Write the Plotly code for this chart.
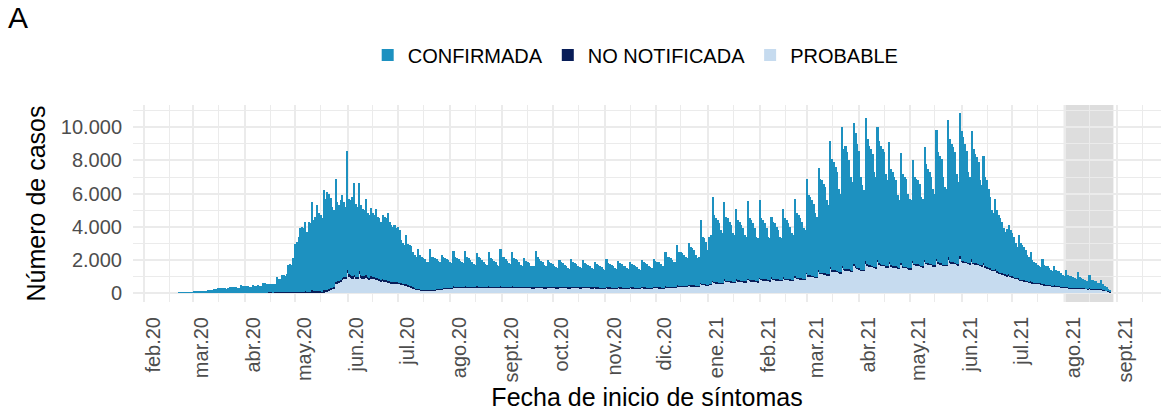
import plotly.graph_objects as go
import pandas as pd

# ---------------- data (daily, starting 2020-02-22) ----------------
start_date = "2020-02-22"

confirmada = [
    20, 30,
    50, 40, 45, 40, 55, 30, 35,
    70, 60, 75, 80, 90, 60, 70,
    140, 150, 160, 170, 190, 230, 260,
    300, 280, 290, 300, 310, 260, 280,
    390, 360, 370, 350, 380, 320, 330,
    460, 430, 410, 420, 400, 360, 350,
    480, 450, 430, 470, 420, 430, 600,
    580, 540, 520, 540, 510, 500, 530,
    930, 830, 810, 1020, 1010, 1010, 1100,
    1640, 1660, 1620, 2040, 2870, 2990, 3330,
    3870, 3920, 3880, 4210, 3620, 4230, 4120,
    5350, 4300, 4510, 5200, 4700, 4610, 4420,
    6060, 5550, 5900, 5730, 5420, 4870, 4620,
    6180, 4800, 4550, 4800, 4990, 4560, 4210,
    7220, 4580, 4540, 4790, 5570, 4450, 4250,
    5350, 4240, 4100, 4000, 4630, 3860, 3810,
    4150, 3850, 3750, 4200, 3710, 3660, 3520,
    3850, 3810, 3710, 4060, 3570, 3420, 3290,
    3420, 3290, 3350, 3180, 2600, 2440, 2360,
    2940, 2470, 2460, 2450, 2150, 1990, 1930,
    2390, 2070, 1990, 1900, 1850, 1710, 1660,
    2440, 2000, 1940, 1890, 1830, 1730, 1670,
    2040, 1870, 1800, 1740, 1680, 1530, 1470,
    2140, 1770, 1720, 1680, 1580, 1490, 1440,
    2140, 1820, 1720, 1630, 1530, 1390, 1340,
    2020, 1770, 1720, 1630, 1530, 1390, 1340,
    2080, 1720, 1670, 1580, 1480, 1340, 1290,
    2240, 1820, 1770, 1680, 1580, 1440, 1390,
    2080, 1720, 1670, 1630, 1480, 1340, 1290,
    1760, 1590, 1540, 1450, 1300, 1260, 1310,
    2160, 1790, 1690, 1600, 1500, 1360, 1310,
    1600, 1490, 1440, 1400, 1300, 1210, 1160,
    1620, 1490, 1440, 1350, 1300, 1160, 1110,
    1700, 1540, 1440, 1400, 1300, 1210, 1160,
    1600, 1440, 1390, 1350, 1250, 1160, 1110,
    1540, 1410, 1360, 1320, 1220, 1130, 1080,
    1670, 1460, 1410, 1370, 1270, 1180, 1130,
    1570, 1460, 1410, 1320, 1270, 1180, 1130,
    1510, 1410, 1360, 1320, 1220, 1130, 1080,
    1650, 1510, 1460, 1420, 1320, 1230, 1180,
    1710, 1600, 1550, 1510, 1410, 1320, 1270,
    2080, 1820, 1770, 1730, 1630, 1540, 1490,
    2410, 2060, 2010, 1970, 1870, 1730, 1680,
    2550, 2330, 2230, 2140, 1870, 1680, 1750,
    3770, 2850, 2750, 2570, 2120, 2850, 2930,
    5050, 4020, 3840, 3740, 3570, 3190, 3000,
    4670, 3850, 3760, 3570, 3390, 2920, 2830,
    4260, 3630, 3540, 3350, 3160, 2790, 2700,
    4700, 3710, 3620, 3430, 3140, 2670, 2580,
    4710, 3650, 3560, 3370, 3080, 2610, 2520,
    3650, 3440, 3350, 3160, 2970, 2600, 2510,
    4140, 3630, 3540, 3350, 3160, 2790, 2700,
    4690, 3880, 3790, 3600, 3410, 3040, 2950,
    5690, 4820, 4740, 4550, 4360, 3810, 3620,
    6140, 5680, 5590, 5400, 5210, 4470, 4180,
    7630, 6710, 6530, 6240, 5950, 5020, 4740,
    8380, 7230, 7450, 7060, 6570, 5640, 5360,
    8480, 8030, 7480, 7090, 5590, 5090, 4810,
    8620, 7560, 7230, 7040, 6750, 5730, 5440,
    8050, 7420, 7180, 6990, 6800, 5580, 5200,
    7240, 5830, 5670, 5380, 5190, 4360, 4080,
    6660, 5570, 5410, 5320, 4490, 4200, 4110,
    6060, 5230, 5170, 5080, 4890, 4170, 4080,
    6810, 5980, 5720, 5530, 5240, 4620, 4340,
    7750, 6640, 6490, 6300, 5290, 4700, 4610,
    8290, 7390, 7140, 6950, 6660, 5440, 4960,
    8630, 7840, 7490, 7100, 6710, 5490, 5210,
    7750, 6860, 6610, 6420, 6130, 5110, 4830,
    6440, 5380, 5240, 4780, 4320, 3590, 3420,
    4230, 3690, 3440, 3270, 3110, 2750, 2570,
    2830, 2980, 2760, 2590, 2430, 2070, 1890,
    2610, 2190, 2110, 2030, 1850, 1590, 1510,
    1800, 1360, 1270, 1180, 1090, 1010, 970,
    1480, 1180, 1140, 1100, 1010, 940, 900,
    1150, 980, 940, 900, 810, 730, 690,
    1020, 760, 720, 670, 630, 590, 550,
    930, 660, 610, 570, 520, 480, 440,
    820, 550, 530, 510, 460, 390, 380,
    580, 360, 280, 210, 140, 60,
]

no_notificada = [
    0, 0,
    0, 0, 0, 0, 0, 0, 0,
    0, 0, 0, 0, 0, 0, 0,
    0, 0, 0, 0, 0, 0, 0,
    0, 0, 0, 0, 0, 0, 0,
    0, 0, 0, 0, 0, 0, 0,
    0, 0, 0, 0, 0, 0, 0,
    0, 0, 0, 0, 0, 0, 0,
    20, 20, 30, 30, 30, 20, 30,
    40, 40, 50, 50, 50, 40, 50,
    60, 60, 60, 60, 70, 60, 70,
    80, 80, 70, 90, 80, 70, 80,
    150, 100, 90, 120, 100, 90, 80,
    120, 90, 100, 100, 90, 80, 80,
    120, 100, 100, 100, 110, 90, 90,
    170, 120, 110, 110, 130, 100, 100,
    150, 110, 100, 100, 120, 90, 90,
    110, 100, 100, 100, 90, 90, 80,
    100, 90, 90, 90, 80, 80, 80,
    80, 80, 80, 70, 70, 60, 60,
    70, 60, 60, 60, 50, 50, 50,
    50, 50, 40, 40, 40, 40, 40,
    40, 40, 40, 40, 40, 40, 40,
    40, 40, 40, 40, 40, 40, 40,
    40, 40, 40, 40, 40, 40, 40,
    40, 40, 40, 40, 40, 40, 40,
    40, 40, 40, 40, 40, 40, 40,
    40, 40, 40, 40, 40, 40, 40,
    40, 40, 40, 40, 40, 40, 40,
    40, 40, 40, 40, 40, 40, 40,
    40, 40, 40, 40, 40, 40, 40,
    40, 40, 40, 40, 40, 40, 40,
    40, 40, 40, 40, 40, 40, 40,
    40, 40, 40, 40, 40, 40, 40,
    40, 40, 40, 40, 40, 40, 40,
    40, 40, 40, 40, 40, 40, 40,
    40, 40, 40, 40, 40, 40, 40,
    40, 40, 40, 40, 40, 40, 40,
    40, 40, 40, 40, 40, 40, 40,
    40, 40, 40, 40, 40, 40, 40,
    40, 40, 40, 40, 40, 40, 40,
    40, 40, 40, 40, 40, 40, 40,
    40, 40, 40, 40, 40, 40, 40,
    50, 50, 50, 50, 50, 50, 50,
    50, 50, 50, 50, 50, 50, 50,
    60, 50, 50, 50, 40, 50, 50,
    70, 60, 60, 60, 50, 50, 50,
    70, 60, 60, 60, 50, 50, 50,
    60, 60, 60, 60, 60, 60, 60,
    60, 60, 60, 60, 60, 60, 60,
    60, 60, 60, 60, 60, 60, 60,
    60, 60, 60, 60, 60, 60, 60,
    60, 60, 60, 60, 60, 60, 60,
    60, 60, 60, 60, 60, 60, 60,
    70, 60, 60, 60, 60, 50, 50,
    80, 60, 60, 60, 60, 50, 50,
    90, 70, 70, 70, 70, 60, 60,
    100, 70, 70, 70, 70, 60, 60,
    110, 80, 70, 70, 60, 60, 60,
    120, 80, 70, 70, 70, 60, 60,
    130, 80, 70, 70, 70, 60, 60,
    110, 70, 70, 70, 70, 60, 60,
    100, 70, 70, 70, 60, 60, 60,
    110, 70, 70, 70, 70, 60, 60,
    120, 70, 70, 70, 70, 60, 60,
    130, 80, 70, 70, 60, 60, 60,
    150, 80, 70, 70, 70, 60, 60,
    160, 80, 70, 70, 70, 60, 60,
    140, 80, 70, 70, 70, 60, 60,
    120, 70, 60, 60, 60, 50, 50,
    80, 60, 60, 60, 50, 50, 50,
    60, 70, 60, 60, 50, 50, 50,
    60, 50, 50, 50, 50, 40, 40,
    50, 40, 40, 40, 40, 40, 40,
    50, 40, 40, 40, 40, 30, 30,
    40, 30, 30, 30, 30, 30, 30,
    40, 30, 30, 30, 30, 30, 30,
    30, 30, 30, 30, 30, 30, 30,
    30, 30, 30, 30, 30, 30, 30,
    30, 30, 30, 20, 20, 10,
]

probable = [
    0, 0,
    0, 0, 0, 0, 0, 0, 0,
    0, 0, 0, 0, 0, 0, 0,
    0, 0, 0, 0, 0, 0, 0,
    0, 0, 0, 0, 0, 0, 0,
    0, 0, 0, 0, 0, 0, 0,
    0, 0, 0, 0, 0, 0, 0,
    0, 0, 0, 0, 0, 0, 0,
    0, 0, 0, 0, 0, 0, 0,
    0, 0, 0, 0, 0, 0, 0,
    0, 0, 0, 0, 0, 0, 0,
    0, 0, 0, 0, 0, 0, 0,
    0, 0, 0, 0, 0, 0, 0,
    30, 60, 100, 150, 200, 250, 300,
    560, 600, 650, 700, 800, 850, 900,
    1200, 1000, 950, 900, 950, 850, 850,
    1150, 950, 900, 900, 950, 850, 800,
    900, 850, 850, 800, 800, 750, 700,
    750, 700, 700, 650, 650, 600, 600,
    600, 580, 560, 550, 530, 500, 480,
    480, 420, 380, 340, 300, 260, 220,
    200, 180, 170, 160, 160, 150, 150,
    160, 160, 170, 170, 180, 180, 190,
    220, 240, 260, 270, 280, 280, 290,
    360, 340, 340, 330, 330, 320, 320,
    360, 340, 340, 330, 330, 320, 320,
    360, 340, 340, 330, 330, 320, 320,
    360, 340, 340, 330, 330, 320, 320,
    360, 340, 340, 330, 330, 320, 320,
    360, 340, 340, 330, 330, 320, 320,
    340, 320, 320, 310, 310, 300, 300,
    340, 320, 320, 310, 310, 300, 300,
    340, 320, 320, 310, 310, 300, 300,
    340, 320, 320, 310, 310, 300, 300,
    340, 320, 320, 310, 310, 300, 300,
    340, 320, 320, 310, 310, 300, 300,
    320, 300, 300, 290, 290, 280, 280,
    320, 300, 300, 290, 290, 280, 280,
    320, 300, 300, 290, 290, 280, 280,
    320, 300, 300, 290, 290, 280, 280,
    320, 300, 300, 290, 290, 280, 280,
    330, 310, 310, 300, 300, 290, 290,
    360, 340, 340, 330, 330, 320, 320,
    420, 390, 390, 380, 380, 370, 370,
    440, 420, 420, 410, 380, 370, 400,
    560, 500, 500, 480, 440, 500, 520,
    680, 620, 600, 600, 580, 560, 550,
    760, 690, 680, 670, 660, 630, 620,
    780, 710, 700, 690, 680, 650, 640,
    800, 730, 720, 710, 700, 670, 660,
    870, 790, 780, 770, 760, 730, 720,
    880, 800, 790, 780, 770, 740, 730,
    900, 810, 800, 790, 780, 750, 740,
    950, 860, 850, 840, 830, 800, 790,
    1150, 1020, 1000, 990, 980, 940, 930,
    1300, 1160, 1150, 1140, 1130, 1080, 1070,
    1450, 1320, 1300, 1290, 1280, 1220, 1200,
    1550, 1400, 1380, 1370, 1360, 1300, 1280,
    1650, 1560, 1450, 1440, 1350, 1350, 1330,
    1800, 1660, 1600, 1590, 1580, 1510, 1500,
    1850, 1700, 1650, 1640, 1630, 1560, 1540,
    1750, 1600, 1560, 1550, 1540, 1480, 1460,
    1700, 1560, 1520, 1510, 1450, 1440, 1430,
    1850, 1700, 1660, 1650, 1640, 1570, 1560,
    1900, 1750, 1710, 1700, 1690, 1620, 1600,
    1950, 1780, 1740, 1730, 1650, 1640, 1630,
    2000, 1830, 1790, 1780, 1770, 1700, 1680,
    2050, 1880, 1840, 1830, 1820, 1750, 1730,
    1900, 1760, 1720, 1710, 1700, 1630, 1610,
    1700, 1550, 1500, 1460, 1420, 1360, 1330,
    1350, 1250, 1200, 1170, 1140, 1100, 1080,
    1000, 1050, 980, 950, 920, 880, 860,
    820, 760, 740, 720, 700, 670, 650,
    650, 600, 590, 580, 570, 550, 540,
    520, 480, 470, 460, 450, 430, 420,
    420, 390, 380, 370, 360, 340, 330,
    340, 310, 300, 300, 290, 280, 270,
    290, 260, 260, 250, 250, 240, 230,
    250, 220, 220, 210, 210, 200, 190,
    190, 160, 140, 120, 90, 50,
]

month_ticks = ["2020-02-01", "2020-03-01", "2020-04-01", "2020-05-01", "2020-06-01",
               "2020-07-01", "2020-08-01", "2020-09-01", "2020-10-01", "2020-11-01",
               "2020-12-01", "2021-01-01", "2021-02-01", "2021-03-01", "2021-04-01",
               "2021-05-01", "2021-06-01", "2021-07-01", "2021-08-01", "2021-09-01"]
month_labels = ["feb.20", "mar.20", "abr.20", "may.20", "jun.20", "jul.20", "ago.20",
                "sept.20", "oct.20", "nov.20", "dic.20", "ene.21", "feb.21", "mar.21",
                "abr.21", "may.21", "jun.21", "jul.21", "ago.21", "sept.21"]
y_ticks = [0, 2000, 4000, 6000, 8000, 10000]
y_labels = ["0", "2.000", "4.000", "6.000", "8.000", "10.000"]
shade_start = "2021-07-31 12:00"
shade_end = "2021-08-30 00:00"
x_range = ["2020-01-25 11:00", "2021-09-27 07:00"]
y_range = [-545, 11350]

n = len(confirmada)
assert len(no_notificada) == n and len(probable) == n, (n, len(no_notificada), len(probable))
dates = pd.date_range(start_date, periods=n, freq="D")

C_CONF = "#1D91C0"
C_NN = "#081D58"
C_PROB = "#C6DBEF"
DAY = 86400000

fig = go.Figure()
fig.add_trace(go.Bar(x=dates, y=probable, name="PROBABLE", width=DAY,
                     marker=dict(color=C_PROB, line=dict(width=0)), legendrank=3))
fig.add_trace(go.Bar(x=dates, y=no_notificada, name="NO NOTIFICADA", width=DAY,
                     marker=dict(color=C_NN, line=dict(width=0)), legendrank=2))
fig.add_trace(go.Bar(x=dates, y=confirmada, name="CONFIRMADA", width=DAY,
                     marker=dict(color=C_CONF, line=dict(width=0)), legendrank=1))

fig.add_shape(type="rect", xref="x", yref="paper", x0=shade_start, x1=shade_end,
              y0=0, y1=1, fillcolor="rgba(120,120,120,0.25)", line=dict(width=0),
              layer="between")

FONT = "Liberation Sans, Arial, sans-serif"
fig.update_layout(
    width=1161, height=413,
    margin=dict(l=133, r=0, t=105, b=111, autoexpand=False),
    paper_bgcolor="white", plot_bgcolor="white",
    barmode="stack", bargap=0,
    font=dict(family=FONT, size=20, color="black"),
    title=dict(text="A", x=0.0069, xref="container", xanchor="left",
               y=0.983, yref="container", yanchor="top",
               font=dict(size=30, color="black", family=FONT)),
    legend=dict(orientation="h", x=0.489, xanchor="center", y=1.254, yanchor="middle",
                font=dict(size=20, color="black"), traceorder="normal",
                bgcolor="rgba(0,0,0,0)"),
    xaxis=dict(
        type="date", range=x_range, automargin=False,
        tickmode="array", tickvals=month_ticks, ticktext=month_labels,
        tickangle=-90, tickfont=dict(size=20, color="#4D4D4D"),
        ticks="", ticklabelshift=9, ticklabelstandoff=10,
        showgrid=True, gridcolor="#EBEBEB", gridwidth=2,
        minor=dict(tick0="2020-01-16", dtick="M1", showgrid=True,
                   gridcolor="#EBEBEB", gridwidth=1, ticks=""),
        zeroline=False, showline=False,
        title=dict(text="Fecha de inicio de síntomas", font=dict(size=25, color="black"),
                   standoff=4),
    ),
    yaxis=dict(
        range=y_range, automargin=False,
        tickmode="array", tickvals=y_ticks, ticktext=y_labels,
        tickfont=dict(size=20, color="#4D4D4D"), ticks="", ticklabelstandoff=10,
        showgrid=True, gridcolor="#EBEBEB", gridwidth=2,
        minor=dict(tick0=0, dtick=1000, showgrid=True, gridcolor="#EBEBEB",
                   gridwidth=1, ticks=""),
        zeroline=False, showline=False,
        title=dict(text="Número de casos", font=dict(size=25, color="black"), standoff=8),
    ),
)

fig.write_html("out.html", config={"displayModeBar": False},
               post_script="document.body.style.margin='0px';")
